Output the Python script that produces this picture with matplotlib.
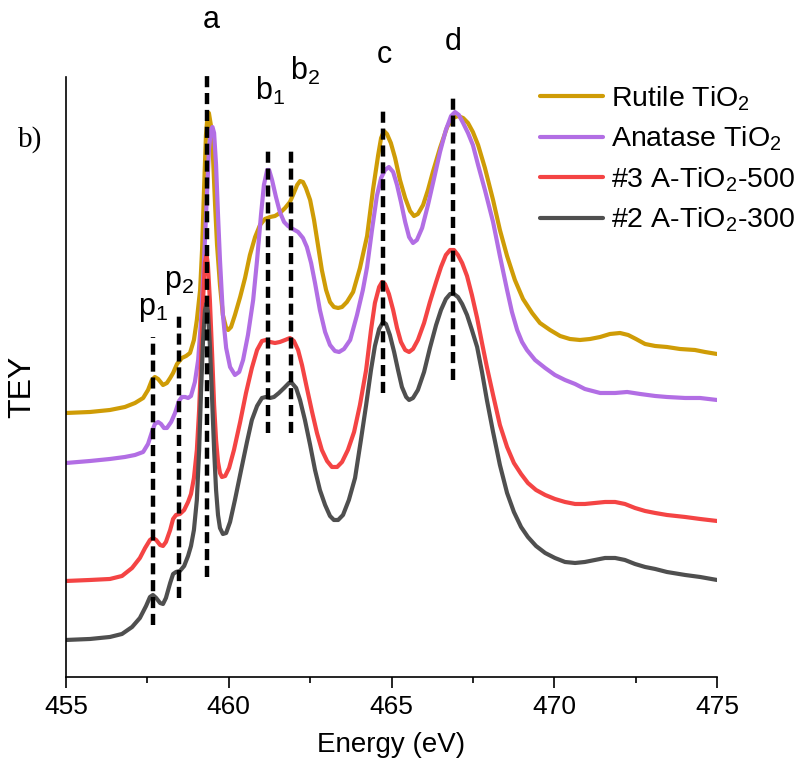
import numpy as np
import matplotlib
matplotlib.use('Agg')
import matplotlib.pyplot as plt

plt.rcParams['font.family'] = ['Liberation Sans', 'DejaVu Sans']
plt.rcParams['mathtext.fontset'] = 'custom'
plt.rcParams['mathtext.rm'] = 'Liberation Sans'
plt.rcParams['mathtext.it'] = 'Liberation Sans:italic'

# Rutile TiO2
rutile_e = [455.00, 455.74, 456.35, 456.81, 457.12, 457.37, 457.52, 457.64, 457.73, 457.83,
            457.98, 458.10, 458.20, 458.29, 458.41, 458.56, 458.69, 458.81, 458.93, 459.02,
            459.12, 459.18, 459.24, 459.30, 459.35, 459.39, 459.45, 459.52, 459.58, 459.64,
            459.73, 459.82, 459.92, 459.98, 460.07, 460.19, 460.35, 460.50, 460.65, 460.81,
            460.96, 461.11, 461.27, 461.42, 461.57, 461.73, 461.88, 462.00, 462.10, 462.19,
            462.28, 462.37, 462.50, 462.62, 462.74, 462.86, 462.99, 463.11, 463.23, 463.36,
            463.48, 463.63, 463.82, 464.03, 464.25, 464.43, 464.59, 464.68, 464.77, 464.86,
            464.98, 465.11, 465.26, 465.42, 465.57, 465.69, 465.81, 465.97, 466.12, 466.27,
            466.49, 466.71, 466.89, 467.04, 467.20, 467.35, 467.50, 467.66, 467.87, 468.12,
            468.33, 468.55, 468.79, 469.04, 469.32, 469.56, 469.87, 470.18, 470.48, 470.79,
            471.10, 471.41, 471.71, 472.02, 472.27, 472.51, 472.79, 473.10, 473.46, 473.86,
            474.32, 474.63, 475.00]
rutile_i = [2.64, 2.65, 2.67, 2.70, 2.74, 2.79, 2.87, 2.97, 3.00, 2.98,
            2.92, 2.94, 2.99, 3.04, 3.13, 3.19, 3.21, 3.24, 3.37, 3.57,
            3.87, 4.27, 4.87, 5.42, 5.62, 5.64, 5.52, 5.17, 4.72, 4.32,
            3.92, 3.62, 3.49, 3.47, 3.50, 3.62, 3.80, 3.99, 4.22, 4.40,
            4.52, 4.58, 4.60, 4.61, 4.64, 4.69, 4.75, 4.84, 4.92, 4.96,
            4.95, 4.89, 4.77, 4.57, 4.32, 4.07, 3.87, 3.75, 3.70, 3.69,
            3.70, 3.75, 3.85, 4.09, 4.41, 4.87, 5.22, 5.39, 5.46, 5.43,
            5.34, 5.19, 4.97, 4.79, 4.66, 4.61, 4.63, 4.72, 4.87, 5.05,
            5.29, 5.50, 5.59, 5.61, 5.59, 5.54, 5.45, 5.32, 5.09, 4.77,
            4.47, 4.21, 3.97, 3.78, 3.64, 3.54, 3.47, 3.41, 3.38, 3.37,
            3.38, 3.40, 3.43, 3.44, 3.42, 3.38, 3.33, 3.31, 3.30, 3.28,
            3.27, 3.25, 3.23]

# Anatase TiO2
anatase_e = [455.00, 455.74, 456.35, 456.81, 457.12, 457.37, 457.52, 457.64, 457.73, 457.83,
             457.92, 458.01, 458.10, 458.23, 458.35, 458.47, 458.56, 458.66, 458.75, 458.84,
             458.96, 459.06, 459.15, 459.24, 459.33, 459.39, 459.45, 459.50, 459.55, 459.61,
             459.67, 459.73, 459.82, 459.92, 460.04, 460.19, 460.32, 460.44, 460.59, 460.75,
             460.87, 460.99, 461.08, 461.18, 461.24, 461.33, 461.45, 461.57, 461.70, 461.82,
             461.97, 462.13, 462.28, 462.40, 462.53, 462.65, 462.80, 462.96, 463.11, 463.26,
             463.39, 463.54, 463.73, 463.94, 464.12, 464.25, 464.40, 464.55, 464.68, 464.80,
             464.92, 465.05, 465.17, 465.29, 465.42, 465.54, 465.66, 465.78, 465.94, 466.12,
             466.31, 466.49, 466.67, 466.83, 466.95, 467.07, 467.20, 467.35, 467.50, 467.66,
             467.87, 468.12, 468.33, 468.55, 468.70, 468.86, 469.01, 469.16, 469.41, 469.72,
             470.02, 470.33, 470.64, 470.94, 471.41, 471.87, 472.24, 472.64, 473.10, 473.46,
             474.02, 474.48, 475.00]
anatase_i = [2.14, 2.16, 2.18, 2.20, 2.22, 2.25, 2.33, 2.45, 2.53, 2.55,
             2.53, 2.49, 2.49, 2.55, 2.64, 2.76, 2.80, 2.80, 2.79, 2.81,
             2.95, 3.17, 3.57, 4.17, 4.82, 5.27, 5.47, 5.50, 5.44, 5.12,
             4.62, 4.17, 3.62, 3.29, 3.10, 3.02, 3.05, 3.17, 3.42, 3.77,
             4.17, 4.62, 4.92, 5.07, 5.07, 4.97, 4.80, 4.65, 4.55, 4.51,
             4.48, 4.45, 4.39, 4.30, 4.14, 3.94, 3.67, 3.45, 3.32, 3.26,
             3.25, 3.28, 3.37, 3.62, 3.87, 4.10, 4.47, 4.81, 4.99, 5.07,
             5.10, 5.05, 4.92, 4.75, 4.55, 4.40, 4.34, 4.37, 4.49, 4.72,
             4.99, 5.25, 5.47, 5.61, 5.65, 5.62, 5.54, 5.44, 5.32, 5.12,
             4.87, 4.55, 4.21, 3.87, 3.65, 3.47, 3.35, 3.27, 3.17, 3.09,
             3.02, 2.97, 2.93, 2.88, 2.84, 2.84, 2.85, 2.83, 2.81, 2.80,
             2.79, 2.79, 2.77]

# #3 A-TiO2-500
s500_e = [455.00, 455.74, 456.35, 456.72, 457.03, 457.27, 457.43, 457.58, 457.67, 457.77,
          457.89, 457.98, 458.07, 458.20, 458.29, 458.38, 458.50, 458.63, 458.75, 458.84,
          458.93, 459.02, 459.09, 459.15, 459.21, 459.27, 459.32, 459.36, 459.42, 459.49,
          459.55, 459.61, 459.67, 459.73, 459.79, 459.89, 460.01, 460.16, 460.35, 460.53,
          460.71, 460.87, 461.02, 461.14, 461.27, 461.42, 461.57, 461.73, 461.88, 462.00,
          462.13, 462.25, 462.40, 462.56, 462.71, 462.86, 463.02, 463.17, 463.33, 463.48,
          463.66, 463.85, 464.03, 464.22, 464.37, 464.49, 464.62, 464.71, 464.80, 464.92,
          465.05, 465.17, 465.29, 465.42, 465.54, 465.66, 465.81, 466.00, 466.18, 466.37,
          466.52, 466.67, 466.80, 466.92, 467.04, 467.17, 467.32, 467.47, 467.63, 467.78,
          467.93, 468.12, 468.33, 468.55, 468.76, 468.98, 469.19, 469.44, 469.72, 470.02,
          470.33, 470.64, 470.94, 471.25, 471.56, 471.87, 472.17, 472.48, 472.79, 473.10,
          473.46, 474.02, 474.48, 475.00]
s500_i = [0.96, 0.97, 0.98, 1.01, 1.09, 1.19, 1.29, 1.37, 1.39, 1.37,
          1.32, 1.31, 1.35, 1.47, 1.58, 1.62, 1.63, 1.67, 1.75, 1.83,
          1.99, 2.27, 2.67, 3.17, 3.77, 4.15, 4.22, 4.12, 3.77, 3.22,
          2.72, 2.37, 2.15, 2.04, 2.00, 2.01, 2.09, 2.27, 2.55, 2.84,
          3.09, 3.27, 3.36, 3.37, 3.35, 3.34, 3.35, 3.37, 3.39, 3.36,
          3.27, 3.12, 2.89, 2.65, 2.44, 2.27, 2.16, 2.10, 2.10, 2.15,
          2.27, 2.45, 2.72, 3.07, 3.47, 3.74, 3.90, 3.95, 3.93, 3.83,
          3.67, 3.49, 3.35, 3.27, 3.25, 3.28, 3.37, 3.54, 3.75, 3.95,
          4.10, 4.22, 4.27, 4.27, 4.22, 4.14, 4.01, 3.82, 3.59, 3.34,
          3.10, 2.82, 2.52, 2.30, 2.14, 2.03, 1.94, 1.87, 1.82, 1.78,
          1.75, 1.73, 1.73, 1.74, 1.75, 1.75, 1.73, 1.69, 1.66, 1.64,
          1.62, 1.60, 1.58, 1.56]

# #2 A-TiO2-300
s300_e = [455.00, 455.74, 456.35, 456.72, 457.03, 457.27, 457.46, 457.58, 457.67, 457.77,
          457.89, 457.98, 458.07, 458.20, 458.29, 458.38, 458.50, 458.63, 458.75, 458.84,
          458.93, 459.02, 459.09, 459.15, 459.21, 459.27, 459.32, 459.36, 459.42, 459.49,
          459.55, 459.61, 459.67, 459.73, 459.82, 459.92, 460.04, 460.19, 460.38, 460.56,
          460.71, 460.87, 461.02, 461.14, 461.27, 461.39, 461.54, 461.70, 461.85, 461.94,
          462.07, 462.19, 462.34, 462.50, 462.65, 462.80, 462.96, 463.11, 463.23, 463.36,
          463.51, 463.69, 463.88, 464.06, 464.22, 464.37, 464.49, 464.62, 464.74, 464.83,
          464.95, 465.08, 465.20, 465.32, 465.45, 465.54, 465.66, 465.81, 466.00, 466.18,
          466.37, 466.52, 466.67, 466.80, 466.92, 467.04, 467.17, 467.32, 467.47, 467.63,
          467.78, 467.93, 468.12, 468.33, 468.55, 468.76, 468.98, 469.19, 469.44, 469.72,
          470.02, 470.33, 470.64, 470.94, 471.25, 471.56, 471.87, 472.17, 472.48, 472.79,
          473.10, 473.46, 474.02, 474.48, 475.00]
s300_i = [0.37, 0.38, 0.40, 0.43, 0.50, 0.59, 0.71, 0.80, 0.82, 0.79,
          0.74, 0.73, 0.79, 0.94, 1.03, 1.05, 1.06, 1.11, 1.21, 1.31,
          1.47, 1.77, 2.27, 2.87, 3.37, 3.67, 3.74, 3.65, 3.32, 2.77,
          2.27, 1.87, 1.62, 1.49, 1.43, 1.44, 1.55, 1.77, 2.07, 2.35,
          2.57, 2.71, 2.79, 2.80, 2.79, 2.80, 2.84, 2.89, 2.94, 2.94,
          2.89, 2.77, 2.57, 2.32, 2.07, 1.87, 1.72, 1.61, 1.57, 1.57,
          1.62, 1.77, 1.99, 2.37, 2.72, 3.07, 3.31, 3.48, 3.55, 3.53,
          3.42, 3.25, 3.07, 2.90, 2.80, 2.77, 2.79, 2.87, 3.05, 3.29,
          3.52, 3.67, 3.78, 3.83, 3.83, 3.80, 3.73, 3.62, 3.47, 3.30,
          3.05, 2.77, 2.45, 2.12, 1.84, 1.65, 1.50, 1.40, 1.31, 1.24,
          1.19, 1.15, 1.14, 1.15, 1.17, 1.19, 1.19, 1.17, 1.13, 1.10,
          1.08, 1.05, 1.02, 1.00, 0.97]

# peak markers: label, energy, dashed line bottom / top
peak_names = ['p$_\\mathregular{1}$', 'p$_\\mathregular{2}$', 'a', 'b$_\\mathregular{1}$',
              'b$_\\mathregular{2}$', 'c', 'd']
peak_e = [457.68, 458.47, 459.34, 461.22, 461.91, 464.75, 466.90]
peak_lo = [0.52, 0.79, 1.00, 2.44, 2.44, 2.84, 2.97]
peak_hi = [3.40, 3.65, 6.02, 5.30, 5.31, 5.70, 5.84]
label_e = [457.67, 458.47, 459.45, 461.27, 462.34, 464.77, 466.89]
label_i = [3.62, 3.89, 6.49, 5.77, 5.97, 6.14, 6.27]

fig = plt.figure(figsize=(7.99, 7.81), dpi=100)
ax = fig.add_axes([0.0826, 0.1332, 0.8148, 0.7682])

kw = dict(lw=3, solid_joinstyle='round', solid_capstyle='round')
ax.plot(rutile_e, rutile_i, color='#cf9c06', label='Rutile TiO$_\\mathregular{2}$', **kw)
ax.plot(anatase_e, anatase_i, color='#b26ee4', label='Anatase TiO$_\\mathregular{2}$', **kw)
ax.plot(s500_e, s500_i, color='#f44444', label='#3 A-TiO$_\\mathregular{2}$-500', **kw)
ax.plot(s300_e, s300_i, color='#4f4f4f', label='#2 A-TiO$_\\mathregular{2}$-300', **kw)

for e, lo, hi in zip(peak_e, peak_lo, peak_hi):
  ax.plot([e, e], [lo, hi], color='black', lw=3.2, linestyle=(0, (2.5, 1.3)), clip_on=False)

for name, e, i in zip(peak_names, label_e, label_i):
  ax.text(e, i, name, fontsize=22, ha='center', va='baseline', clip_on=False)

ax.text(453.89, 5.30, 'b)', fontsize=21, family='Liberation Serif', ha='center', va='baseline', clip_on=False)

ax.set_xlim(455, 475)
ax.set_ylim(0, 6)
ax.set_xticks([455, 460, 465, 470, 475])
ax.set_xticks([457.5, 462.5, 467.5, 472.5], minor=True)
ax.tick_params(axis='x', which='major', direction='out', length=8, width=1.2, labelsize=19, pad=5)
ax.tick_params(axis='x', which='minor', direction='out', length=4, width=1.2)
ax.set_yticks([])
ax.spines['top'].set_visible(False)
ax.spines['right'].set_visible(False)
ax.spines['left'].set_linewidth(1.2)
ax.spines['bottom'].set_linewidth(1.2)
ax.set_xlabel('Energy (eV)', fontsize=20, labelpad=9)
fig.text(22 / 799, 1 - 387 / 781, 'TEY', fontsize=23, rotation=90, ha='center', va='center')

ax.legend(loc='upper left', bbox_to_anchor=(0.728, 0.988), frameon=False, fontsize=20.5,
          handlelength=2.2, handletextpad=0.3, labelspacing=0.42, borderpad=0, borderaxespad=0)

fig.savefig('out.png', dpi=100)
